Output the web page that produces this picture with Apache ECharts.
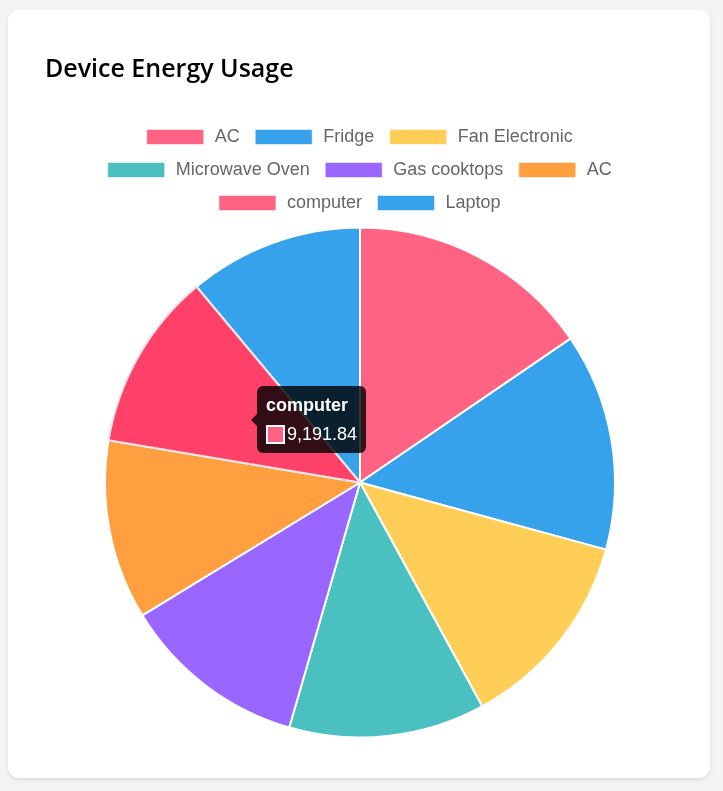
<!DOCTYPE html>
<html>
<head>
<meta charset="utf-8">
<script src="https://cdn.jsdelivr.net/npm/echarts@6/dist/echarts.min.js"></script>
<style>
  html, body { margin: 0; padding: 0; background: #f3f4f6; width: 723px; height: 791px; overflow: hidden; }
  #card { position: absolute; left: 8px; top: 10px; width: 702px; height: 768px; background: #fff; border-radius: 11px; box-shadow: 0 2px 4px rgba(0,0,0,0.10); }
  #chart { position: absolute; left: 0; top: 0; width: 719px; height: 791px; }
</style>
</head>
<body>
<div id="card"></div>
<div id="chart"></div>
<script>
// ---- data ----
const titleText = 'Device Energy Usage';
const categories = ['AC', 'Fridge', 'Fan Electronic', 'Microwave Oven', 'Gas cooktops', 'AC', 'computer', 'Laptop'];
const values = [12592, 11221, 10432, 10122, 9615, 9255, 9191.84, 9016];
const colors = ['#FF6384', '#36A2EB', '#FFCE56', '#4BC0C0', '#9966FF', '#FF9F40', '#FF6384', '#36A2EB'];
const hoverColors = ['#FF4069', '#1A8FE0', '#FFC133', '#33B5B5', '#7F40FF', '#FF8A1A', '#FF4069', '#1A8FE0'];
const legendRows = [[0, 1, 2], [3, 4, 5], [6, 7]];
const hoveredIndex = 6;

// ---- layout ----
const CX = 360, CY = 482.5, R = 255;
const legendTops = [123, 156, 189];
const font = "'Liberation Sans', Arial, Helvetica, sans-serif";

const chart = echarts.init(document.getElementById('chart'), null, { renderer: 'canvas' });

const legends = legendRows.map((row, ri) => ({
  left: 'center',
  top: legendTops[ri],
  orient: 'horizontal',
  icon: 'rect',
  itemWidth: 57,
  itemHeight: 15,
  itemGap: 15,
  selectedMode: false,
  itemStyle: { borderWidth: 1, borderColor: 'rgba(255,255,255,0.55)' },
  textStyle: { color: '#666', fontSize: 18, fontFamily: font, padding: [0, 0, 0, 6] },
  data: row.map(i => ({ name: categories[i], itemStyle: { color: colors[i], borderWidth: 1, borderColor: 'rgba(255,255,255,0.55)' } }))
}));

const total = values.reduce((a, b) => a + b, 0);
function centroid(idx) {
  let start = 0;
  for (let i = 0; i < idx; i++) start += values[i];
  const a0 = start / total * 2 * Math.PI;
  const a1 = (start + values[idx]) / total * 2 * Math.PI;
  const mid = (a0 + a1) / 2;
  return [CX + (R / 2) * Math.sin(mid), CY - (R / 2) * Math.cos(mid)];
}

const option = {
  animation: false,
  title: {
    text: titleText,
    left: 40,
    top: 52,
    textStyle: { fontFamily: "'Open Sans', 'Noto Sans', sans-serif", fontSize: 25, fontWeight: 600, color: '#000' }
  },
  legend: legends,
  tooltip: {
    trigger: 'item',
    triggerOn: 'none',
    alwaysShowContent: true,
    transitionDuration: 0,
    backgroundColor: 'rgba(0,0,0,0.8)',
    borderWidth: 0,
    padding: 9,
    extraCssText: 'border-radius:6px;box-shadow:none;',
    position: function (point, params, dom, rect, size) {
      const c = centroid(params.dataIndex);
      return [c[0] + 8, c[1] - size.contentSize[1] / 2];
    },
    formatter: function (p) {
      const v = Number(p.value).toLocaleString('en-US', { maximumFractionDigits: 3 });
      return '<div style="position:relative;font-family:' + font + ';color:#fff;">' +
        '<div style="position:absolute;left:-15px;top:50%;margin-top:-6px;width:0;height:0;border-top:6px solid transparent;border-bottom:6px solid transparent;border-right:6px solid rgba(0,0,0,0.8);"></div>' +
        '<div style="font-weight:bold;font-size:18px;line-height:20px;">' + p.name + '</div>' +
        '<div style="margin-top:9px;display:flex;align-items:center;font-size:18px;line-height:20px;">' +
        '<span style="display:inline-block;box-sizing:border-box;width:19px;height:19px;background:' + p.color + ';border:2px solid #fff;margin-right:2px;"></span>' + v + '</div>' +
        '</div>';
    }
  },
  series: [{
    type: 'pie',
    center: [CX, CY],
    radius: R,
    startAngle: 90,
    clockwise: true,
    label: { show: false },
    labelLine: { show: false },
    itemStyle: { borderColor: '#fff', borderWidth: 2 },
    emphasis: { scale: false, label: { show: false } },
    data: categories.map((name, i) => ({
      name: name,
      value: values[i],
      itemStyle: { color: colors[i] },
      emphasis: { itemStyle: { color: hoverColors[i], borderColor: '#e6e6e6', borderWidth: 2 } }
    }))
  }]
};

chart.setOption(option);
chart.dispatchAction({ type: 'highlight', seriesIndex: 0, dataIndex: hoveredIndex });
chart.dispatchAction({ type: 'showTip', seriesIndex: 0, dataIndex: hoveredIndex });
</script>
</body>
</html>
